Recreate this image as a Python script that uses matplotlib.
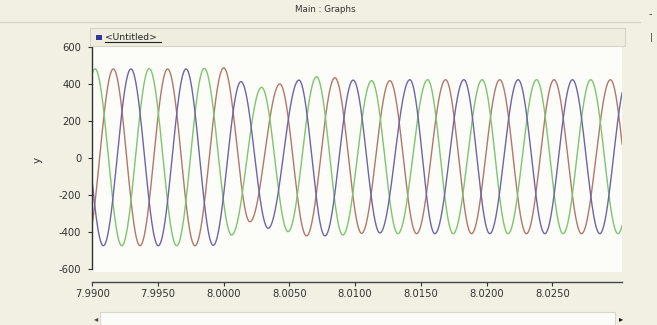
import numpy as np
import matplotlib
matplotlib.use("Agg")
import matplotlib.pyplot as plt
from matplotlib.patches import Rectangle

# ---- data (extrema of each phase: time [s], value) ----
green_peak_t = [7.99021, 7.99433, 7.99852, 8.00288, 8.00706, 8.01125, 8.01551, 8.01966, 8.02380, 8.02792, 8.03208]
green_peak_v = [480, 482, 483, 381, 438, 417, 422, 422, 422, 422, 422]
green_trough_t = [7.98811, 7.99224, 7.99642, 8.00060, 8.00490, 8.00906, 8.01325, 8.01745, 8.02163, 8.02582, 8.03000]
green_trough_v = [-472, -472, -472, -414, -396, -414, -407, -407, -407, -407, -407]

red_peak_t = [7.99160, 7.99573, 8.00000, 8.00427, 8.00846, 8.01264, 8.01688, 8.02100, 8.02513, 8.02942]
red_peak_v = [480, 480, 486, 399, 433, 417, 422, 422, 422, 422]
red_trough_t = [7.98952, 7.99363, 7.99781, 8.00199, 8.00630, 8.01049, 8.01467, 8.01885, 8.02303, 8.02722, 8.03140]
red_trough_v = [-472, -472, -472, -343, -419, -405, -407, -407, -407, -407, -407]

blue_peak_t = [7.98878, 7.99294, 7.99713, 8.00131, 8.00572, 8.00985, 8.01416, 8.01827, 8.02240, 8.02653, 8.03070]
blue_peak_v = [480, 480, 480, 412, 420, 420, 422, 422, 422, 422, 422]
blue_trough_t = [7.99084, 7.99502, 7.99920, 8.00338, 8.00770, 8.01188, 8.01606, 8.02024, 8.02443, 8.02861]
blue_trough_v = [-472, -472, -470, -378, -419, -403, -407, -407, -407, -407]

x_ticks = [7.9900, 7.9950, 8.0000, 8.0050, 8.0100, 8.0150, 8.0200, 8.0250]
y_ticks = [-600, -400, -200, 0, 200, 400, 600]
title_text = "Main : Graphs"
legend_text = "<Untitled>"
y_label = "y"

BG = "#f2f0e2"
C_RED = "#b5766a"
C_GREEN = "#7cc66c"
C_BLUE = "#6e64aa"


def smooth_through(pt, pv, tt, tv, t):
    et = np.array(list(pt) + list(tt))
    ev = np.array(list(pv) + list(tv), dtype=float)
    order = np.argsort(et)
    et, ev = et[order], ev[order]
    y = np.full_like(t, np.nan)
    for i in range(len(et) - 1):
        m = (t >= et[i]) & (t <= et[i + 1])
        f = (t[m] - et[i]) / (et[i + 1] - et[i])
        y[m] = ev[i] + (ev[i + 1] - ev[i]) * (1 - np.cos(np.pi * f)) / 2
    return y


W, H = 657, 325
fig = plt.figure(figsize=(W / 100, H / 100), dpi=100, facecolor=BG)

# header
fig.text(325 / W, 1 - 10 / H, title_text, ha="center", va="center", fontsize=6.3, color="#333333")
fig.add_artist(plt.Line2D([0, 640 / W], [1 - 22 / H, 1 - 22 / H], color="#d8d6c8", lw=1.0))
fig.text(650 / W, 1 - 14 / H, "-", ha="center", va="center", fontsize=7, color="#333333")
fig.text(651 / W, 1 - 37 / H, "|", ha="center", va="center", fontsize=6, color="#333333")

# legend bar
fig.add_artist(Rectangle((90 / W, 1 - 46 / H), (625 - 90) / W, 18 / H, transform=fig.transFigure,
                         facecolor="#efeddf", edgecolor="#d6d4c6", lw=0.8))
fig.add_artist(Rectangle((96 / W, 1 - 39.5 / H), 6 / W, 5 / H, transform=fig.transFigure,
                         facecolor="#2d3a9a", edgecolor="none"))
fig.text(105 / W, 1 - 37 / H, legend_text, ha="left", va="center", fontsize=6.6, color="#222222")
fig.add_artist(plt.Line2D([105 / W, 161 / W], [1 - 42 / H, 1 - 42 / H], color="#222222", lw=0.8))

# main axes
x0, x1 = 92.3, 622
ytop, ybot = 45, 272
ax = fig.add_axes([x0 / W, 1 - ybot / H, (x1 - x0) / W, (ybot - ytop) / H])
ax.set_facecolor("#fcfcf9")

t = np.linspace(7.9880, 8.0320, 6000)
for pt, pv, tt, tv, c in [
    (red_peak_t, red_peak_v, red_trough_t, red_trough_v, C_RED),
    (green_peak_t, green_peak_v, green_trough_t, green_trough_v, C_GREEN),
    (blue_peak_t, blue_peak_v, blue_trough_t, blue_trough_v, C_BLUE),
]:
    ax.plot(t, smooth_through(pt, pv, tt, tv, t), color=c, lw=1.0)

ax.set_xlim(7.9900, 8.0303)
ax.set_ylim(-613.5, 609)
for s in ["top", "right"]:
    ax.spines[s].set_visible(False)
ax.spines["left"].set_bounds(-600, 600)
ax.spines["left"].set_color("#333333")
ax.spines["left"].set_linewidth(1.0)
ax.spines["bottom"].set_position(("outward", 7.2))
ax.spines["bottom"].set_color("#444444")
ax.spines["bottom"].set_linewidth(1.0)

ax.set_xticks(x_ticks)
ax.set_xticklabels([f"{v:.4f}" for v in x_ticks])
ax.set_yticks(y_ticks)
ax.set_yticklabels([str(v) for v in y_ticks])
ax.tick_params(axis="both", labelsize=7.2, colors="#333333", length=3, width=0.8, pad=2)
ax.tick_params(axis="y", pad=5)

fig.text(38 / W, 1 - 160 / H, y_label, ha="center", va="center", rotation=90, fontsize=7.5, color="#333333")

# bottom scroll bar
fig.add_artist(Rectangle((100 / W, 0), (615 - 100) / W, 13 / H, transform=fig.transFigure,
                         facecolor="#fbfbf8", edgecolor="#d9d7ca", lw=0.8))
fig.text(96 / W, 6 / H, "\u25c2", ha="center", va="center", fontsize=6, color="#444444")
fig.text(621 / W, 6 / H, "\u25b8", ha="center", va="center", fontsize=6, color="#111111")

fig.savefig("out.png", dpi=100, facecolor=BG)
